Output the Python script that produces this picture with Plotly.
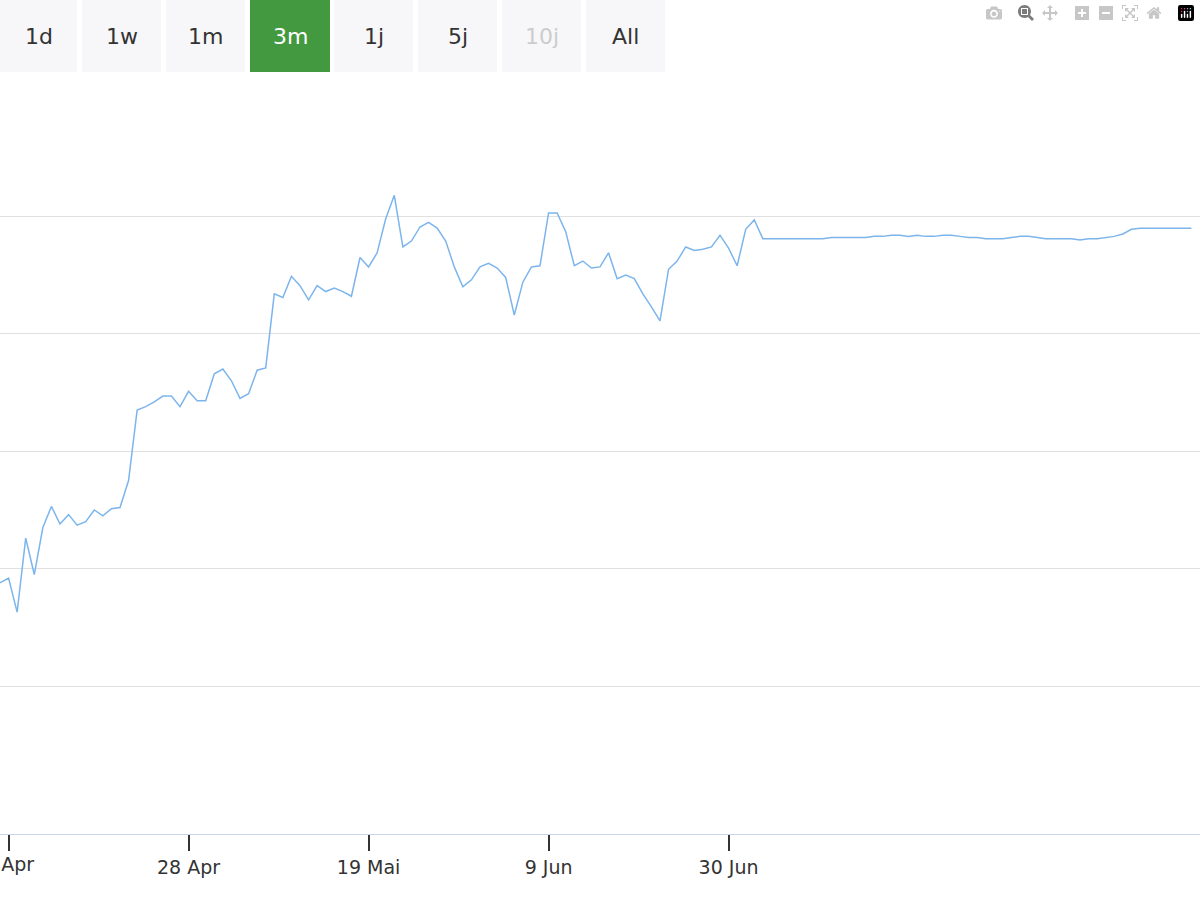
import plotly.graph_objects as go
import pandas as pd

start_date = "2025-04-06"
values = [
    1.88, 1.92, 1.63, 2.26, 1.95, 2.35, 2.53, 2.38, 2.46, 2.37,
    2.40, 2.50, 2.45, 2.51, 2.52, 2.75, 3.35, 3.38, 3.42, 3.47,
    3.47, 3.38, 3.51, 3.43, 3.43, 3.66, 3.70, 3.60, 3.45, 3.49,
    3.69, 3.71, 4.34, 4.31, 4.49, 4.41, 4.29, 4.41, 4.36, 4.39,
    4.36, 4.32, 4.65, 4.57, 4.69, 4.98, 5.18, 4.74, 4.79, 4.91,
    4.95, 4.90, 4.79, 4.57, 4.40, 4.46, 4.57, 4.60, 4.56, 4.48,
    4.16, 4.44, 4.57, 4.58, 5.03, 5.03, 4.87, 4.58, 4.62, 4.56,
    4.57, 4.69, 4.47, 4.50, 4.47, 4.34, 4.23, 4.11, 4.55, 4.62,
    4.74, 4.71, 4.72, 4.74, 4.84, 4.73, 4.58, 4.89, 4.97, 4.81,
    4.81, 4.81, 4.81, 4.81, 4.81, 4.81, 4.81, 4.82, 4.82, 4.82,
    4.82, 4.82, 4.83, 4.83, 4.84, 4.84, 4.83, 4.84, 4.83, 4.83,
    4.84, 4.84, 4.83, 4.82, 4.82, 4.81, 4.81, 4.81, 4.82, 4.83,
    4.83, 4.82, 4.81, 4.81, 4.81, 4.81, 4.80, 4.81, 4.81, 4.82,
    4.83, 4.85, 4.89, 4.90, 4.90, 4.90, 4.90, 4.90, 4.90, 4.90,
]
dates = pd.date_range(start_date, periods=len(values), freq="D")

tick_dates = ["2025-04-07", "2025-04-28", "2025-05-19", "2025-06-09", "2025-06-30"]
tick_labels = ["7 Apr", "28 Apr", "19 Mai", "9 Jun", "30 Jun"]
buttons = ["1d", "1w", "1m", "3m", "1j", "5j", "10j", "All"]
button_px = [(0, 77), (82, 161), (166, 245), (250, 330), (334, 413), (418, 497), (502, 581), (586, 665)]
selected = "3m"
disabled = "10j"

fig = go.Figure(go.Scatter(
    x=dates, y=values, mode="lines",
    line=dict(color="#7cb5ec", width=1.5), hoverinfo="x+y",
))

# range-selector buttons drawn above the plot area (plot spans px 99..834)
def py(p):
    return (834 - p) / 735

for name, (x0, x1) in zip(buttons, button_px):
    on = name == selected
    fig.add_shape(type="rect", xref="paper", yref="paper",
                  x0=x0 / 1200, x1=x1 / 1200, y0=py(72), y1=py(0),
                  fillcolor="#43993f" if on else "#f7f7f9", line_width=0)
    fig.add_annotation(xref="paper", yref="paper", x=(x0 + x1) / 2400, y=py(36),
                       xanchor="center", yanchor="middle",
                       text=name, showarrow=False,
                       font=dict(size=22, color="white" if on else ("#cccccc" if name == disabled else "#333333")))

# first tick label sits half outside the page; plotly would hide it, so place it by hand
fig.add_annotation(xref="x", yref="paper", x=tick_dates[0], y=py(864),
                   xanchor="center", yanchor="middle", text=tick_labels[0],
                   showarrow=False, font=dict(size=19, color="#333333"))

fig.update_layout(
    width=1200, height=900,
    margin=dict(l=0, r=0, t=99, b=66),
    paper_bgcolor="white", plot_bgcolor="white",
    showlegend=False,
    font=dict(family="DejaVu Sans", color="#333333"),
    xaxis=dict(range=["2025-04-06 00:00", "2025-08-24 00:00"],
               tickvals=tick_dates, ticktext=[""] + tick_labels[1:],
               ticks="outside", ticklen=16, tickcolor="#333333", tickwidth=1.5,
               tickfont=dict(size=19, color="#333333"),
               showgrid=False, showline=True, linecolor="#ccd6eb", zeroline=False),
    yaxis=dict(range=[-0.26, 6.0], tickvals=[1, 2, 3, 4, 5, 6], showticklabels=False,
               gridcolor="#e0e0e0", gridwidth=1.3, zeroline=False, showline=False),
)

fig.write_html("out.html", post_script="document.body.style.margin='0';")
